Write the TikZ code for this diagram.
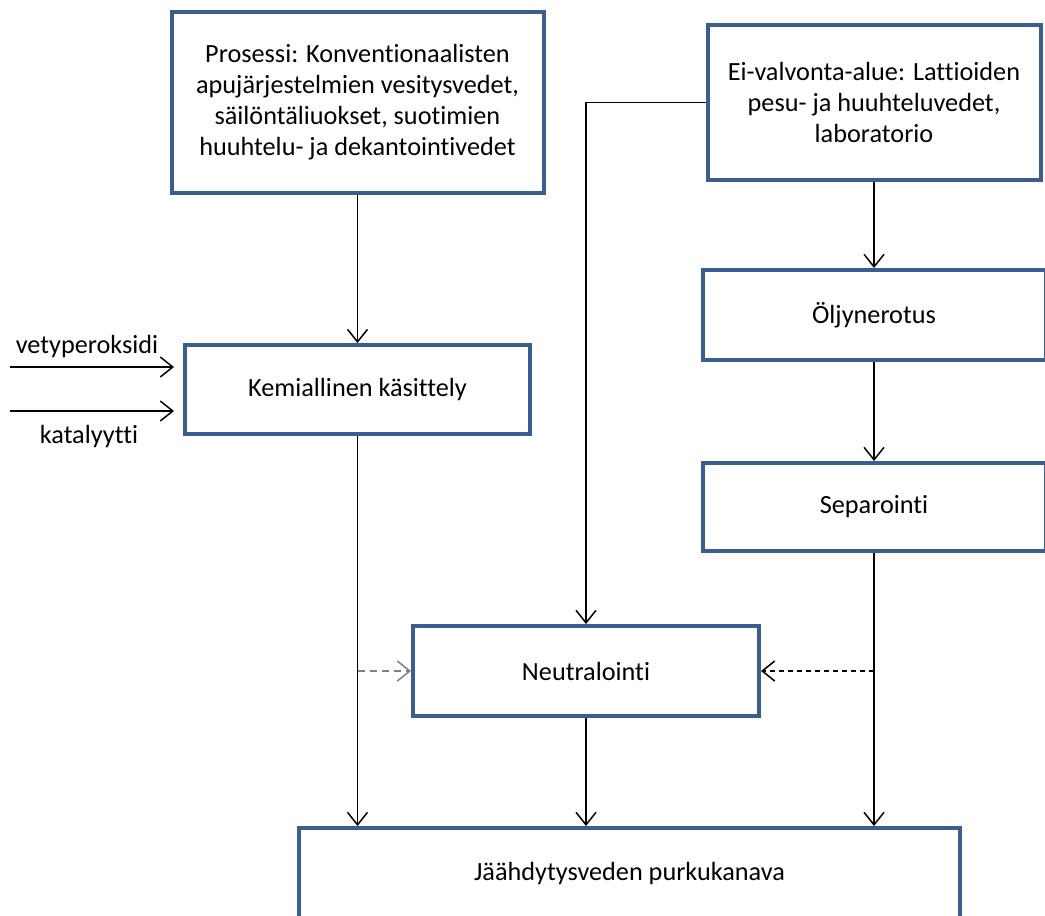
\documentclass[tikz,border=0pt]{standalone}
\usepackage{fontspec}
\setmainfont{Carlito}[Ligatures={NoCommon}]
\usetikzlibrary{arrows.meta}
\definecolor{boxblue}{HTML}{3A5F8E}

\tikzset{
  procbox/.style={draw=boxblue, line width=1.6pt, align=center, inner sep=0pt,
    font=\fontsize{10.5}{12.4}\selectfont},
  flow/.style={-{Straight Barb[length=5pt,width=8pt]}, line width=0.6pt},
  inlabel/.style={font=\fontsize{10.5}{12.4}\selectfont},
}

\begin{document}
\begin{tikzpicture}[x=0.4pt,y=-0.4pt]
        \clip (0,0) rectangle (1045,915);

        % top boxes
        \node[procbox, minimum width=148.8pt, minimum height=72.4pt] (prosessi) at (357.5,102)
            {Prosessi: Konventionaalisten\\apujärjestelmien vesitysvedet,\\säilöntäliuokset, suotimien\\huuhtelu- ja dekantointivedet};
        \node[procbox, minimum width=133.2pt, minimum height=62pt] (eialue) at (874,102.5)
            {Ei-valvonta-alue: Lattioiden\\pesu- ja huuhteluvedet,\\laboratorio};

        % treatment boxes
        \node[procbox, minimum width=138pt, minimum height=35.6pt] (kemia) at (357.5,389.5) {Kemiallinen käsittely};
        \node[procbox, minimum width=137.2pt, minimum height=36pt] (oljy) at (874,315) {Öljynerotus};
        \node[procbox, minimum width=137.2pt, minimum height=35.2pt] (separ) at (874,507) {Separointi};
        \node[procbox, minimum width=138.4pt, minimum height=36pt] (neutr) at (586,671) {Neutralointi};

        % outlet
        \node[procbox, minimum width=264.4pt, minimum height=36pt] (purku) at (629.5,873) {Jäähdytysveden purkukanava};

        % chemicals in
        \coordinate (vetyin) at (10,367);
        \coordinate (katin) at (10,411);
        \draw[flow, shorten >=3.6pt] (vetyin) -- (vetyin -| kemia.west);
        \draw[flow, shorten >=3.6pt] (katin) -- (katin -| kemia.west);
        \node[inlabel] (vetylab) at (87,346) {vetyperoksidi};
        \node[inlabel] (katlab) at (89,436) {katalyytti};

        % main flow
        \draw[flow] (prosessi.south) -- (kemia.north);
        \draw[flow] (eialue.south) -- (oljy.north);
        \draw[flow] (oljy.south) -- (separ.north);
        \draw[flow] (eialue.west) -| (neutr.north);
        \draw[flow] (kemia.south) -- (kemia.south |- purku.north);
        \draw[flow] (neutr.south) -- (neutr.south |- purku.north);
        \draw[flow] (separ.south) -- (separ.south |- purku.north);

        % optional neutralisation
        \draw[flow, gray, dash pattern=on 3pt off 1.8pt] (kemia.south |- neutr.west) -- (neutr.west);
        \draw[flow, dash pattern=on 2pt off 1.6pt] (separ.south |- neutr.east) -- (neutr.east);
    \end{tikzpicture}
\end{document}
